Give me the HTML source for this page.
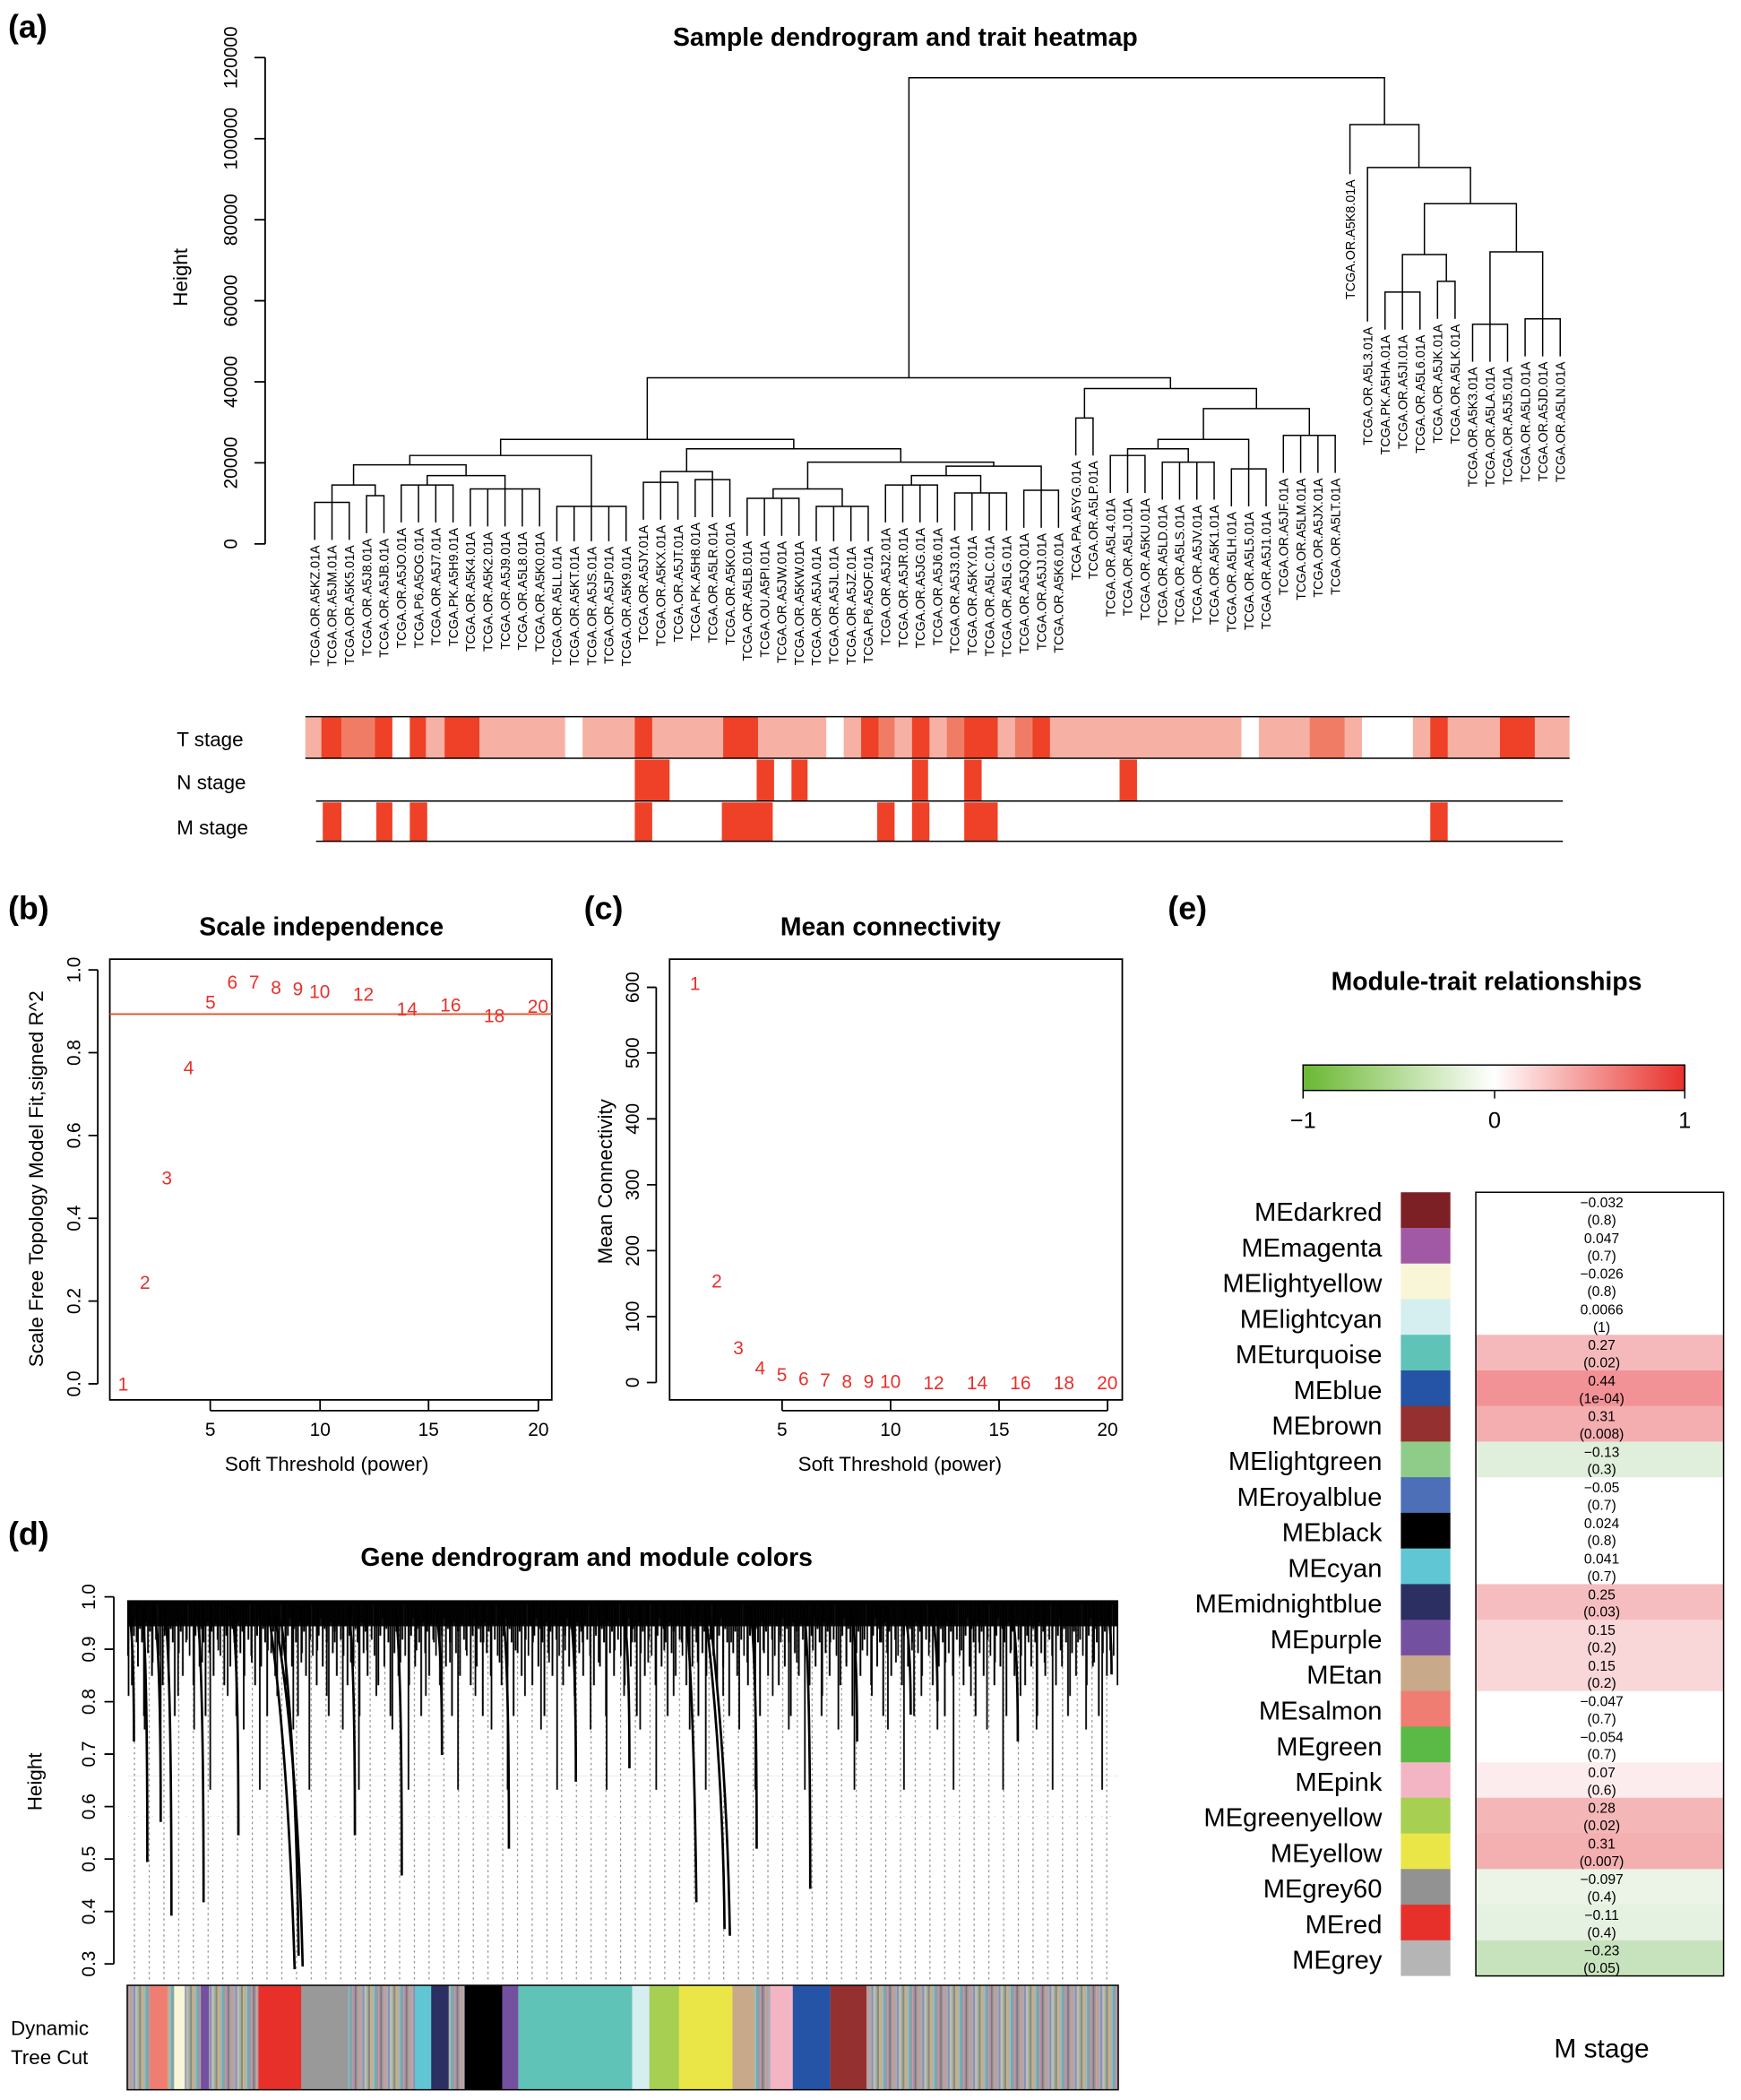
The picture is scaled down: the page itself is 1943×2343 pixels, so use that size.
<!DOCTYPE html>
<html><head><meta charset="utf-8"><style>html,body{margin:0;padding:0;background:#fff}svg{display:block}</style></head>
<body>
<svg xmlns="http://www.w3.org/2000/svg" width="1943" height="2343" viewBox="0 0 1300 1567.6" font-family="Liberation Sans, Arial, sans-serif">
<defs>
<linearGradient id="gr" x1="0" x2="1"><stop offset="0" stop-color="#6ab832"/><stop offset="0.5" stop-color="#ffffff"/><stop offset="1" stop-color="#e8302b"/></linearGradient>
<pattern id="dense" x="95" y="1196" width="23" height="130" patternUnits="userSpaceOnUse">
<path d="M0.5,0V40M2,0V18M3.5,0V62M5,0V25M6.5,0V12M8,0V48M9.5,0V20M11,0V30M12.5,0V85M14,0V15M15.5,0V38M17,0V22M18.5,0V55M20,0V16M21.5,0V28" stroke="#000" stroke-width="1.3"/>
</pattern>
<pattern id="dense2" x="95" y="1196" width="37" height="160" patternUnits="userSpaceOnUse">
<path d="M1,0V70M7,0V30M13,0V95M19,0V45M25,0V140M31,0V36" stroke="#000" stroke-width="1.2"/>
</pattern>
<pattern id="dots" x="100" y="1212" width="11" height="4" patternUnits="userSpaceOnUse">
<rect x="0" y="0" width="0.8" height="1.6" fill="#888"/>
</pattern>
<pattern id="mix" x="95" y="1482" width="19" height="78" patternUnits="userSpaceOnUse">
<rect x="0" width="1.5" height="78" fill="#999"/><rect x="1.5" width="1.5" height="78" fill="#c49a9a"/><rect x="3" width="1.5" height="78" fill="#aaa"/><rect x="4.5" width="1.5" height="78" fill="#8a8fb5"/><rect x="6" width="1.5" height="78" fill="#bbb"/><rect x="7.5" width="1.5" height="78" fill="#a0b090"/><rect x="9" width="1.5" height="78" fill="#888"/><rect x="10.5" width="1.5" height="78" fill="#c8b080"/><rect x="12" width="1.5" height="78" fill="#b0b0b0"/><rect x="13.5" width="1.5" height="78" fill="#66b0b8"/><rect x="15" width="1.5" height="78" fill="#9a9a9a"/><rect x="16.5" width="1.5" height="78" fill="#b88aa8"/><rect x="18" width="1" height="78" fill="#777"/>
</pattern>
</defs>
<rect width="1300" height="1568" fill="#fff"/>
<g font-weight="bold" font-size="24">
<text x="6" y="28">(a)</text><text x="6" y="686">(b)</text><text x="436" y="686">(c)</text><text x="872" y="686">(e)</text><text x="6" y="1153">(d)</text>
</g>
<g font-weight="bold" font-size="19" text-anchor="middle">
<text x="676" y="34">Sample dendrogram and trait heatmap</text>
<text x="240" y="698">Scale independence</text>
<text x="665" y="698">Mean connectivity</text>
<text x="1110" y="739">Module-trait relationships</text>
<text x="438" y="1169">Gene dendrogram and module colors</text>
</g>
<g stroke="#000" stroke-width="1.2" fill="none">
<path d="M198,406V43M190,406H198M190,345.5H198M190,285H198M190,224.5H198M190,164H198M190,103.5H198M190,43H198"/>
</g>
<g font-size="14" text-anchor="middle">
<text transform="translate(177,406) rotate(-90)">0</text>
<text transform="translate(177,345.5) rotate(-90)">20000</text>
<text transform="translate(177,285) rotate(-90)">40000</text>
<text transform="translate(177,224.5) rotate(-90)">60000</text>
<text transform="translate(177,164) rotate(-90)">80000</text>
<text transform="translate(177,103.5) rotate(-90)">100000</text>
<text transform="translate(177,43) rotate(-90)">120000</text>
<text transform="translate(140,207) rotate(-90)" font-size="15">Height</text>
</g>
<g stroke="#000" stroke-width="1" fill="none">
<path d="M235,403V375H260.8V403M247.9,375V403"/>
<path d="M273.7,398V370H286.7V398"/>
<path d="M299.6,390V362H338.3V390M312.5,362V390M325.4,362V390"/>
<path d="M351.2,393V365H402.9V393M364.2,365V393M377.1,365V393M390,365V393"/>
<path d="M415.8,404V378H467.5V404M428.7,378V404M441.6,378V404M454.6,378V404"/>
<path d="M247.9,375V362H280.2V370M319,362V355H377.1V365M264,362V347H348V355M306,347V340H441.6V378"/>
<path d="M480.4,388V360H506.2V388M493.3,360V388"/>
<path d="M519.1,386V358H545V386M532,358V386"/>
<path d="M493.3,360V352H532V358"/>
<path d="M557.9,400V372H596.6V400M570.8,372V400M583.7,372V400"/>
<path d="M609.5,404V378H648.3V404M622.5,378V404M635.4,378V404"/>
<path d="M661.2,390V362H700V390M674.1,362V390M687,362V390"/>
<path d="M712.9,396V368H751.6V396M725.8,368V396M738.7,368V396"/>
<path d="M764.5,394V366H790.4V394M777.5,366V394"/>
<path d="M577.3,372V365H628.9V378M680.6,362V355H732.3V368M706.5,355V348H777.5V366M603.1,365V345H742V348"/>
<path d="M512.7,352V335H672.6V345M373.8,340V328H592.7V335"/>
<path d="M803.3,340V312H816.2V340"/>
<path d="M829.1,368V340H855V368M842,340V368"/>
<path d="M867.9,373V345H906.6V373M880.8,345V373M893.7,345V373"/>
<path d="M919.5,378V350H945.4V378M932.4,350V378"/>
<path d="M958.3,353V325H997V353M971.2,325V353M984.1,325V353"/>
<path d="M842,340V335H887.3V345M864.7,335V328H932.4V350M898.6,328V305H977.7V325M809.8,312V290H938.2V305"/>
<path d="M483.3,328V282H874V290"/>
<path d="M678.7,282V58H1033.8V93"/>
<path d="M1008,130V93H1059.5V125"/>
<path d="M1021.1,240V125H1098V152"/>
<path d="M1063.6,190V152H1132.3V188"/>
<path d="M1047.2,218V190H1080V210"/>
<path d="M1034.2,246V218H1060.3V246M1047.2,218V246"/>
<path d="M1073.4,238V210H1086.5V238"/>
<path d="M1112.6,242V188H1151.9V238"/>
<path d="M1099.6,270V242H1125.7V270M1112.6,242V270"/>
<path d="M1138.8,266V238H1165V266M1151.9,238V266"/>
</g>
<g font-size="9.6" text-anchor="end">
<text transform="translate(238.5,407) rotate(-90)">TCGA.OR.A5KZ.01A</text>
<text transform="translate(251.4,407) rotate(-90)">TCGA.OR.A5JM.01A</text>
<text transform="translate(264.3,407) rotate(-90)">TCGA.OR.A5K5.01A</text>
<text transform="translate(277.2,402) rotate(-90)">TCGA.OR.A5J8.01A</text>
<text transform="translate(290.2,402) rotate(-90)">TCGA.OR.A5JB.01A</text>
<text transform="translate(303.1,394) rotate(-90)">TCGA.OR.A5JO.01A</text>
<text transform="translate(316,394) rotate(-90)">TCGA.P6.A5OG.01A</text>
<text transform="translate(328.9,394) rotate(-90)">TCGA.OR.A5J7.01A</text>
<text transform="translate(341.8,394) rotate(-90)">TCGA.PK.A5H9.01A</text>
<text transform="translate(354.7,397) rotate(-90)">TCGA.OR.A5K4.01A</text>
<text transform="translate(367.7,397) rotate(-90)">TCGA.OR.A5K2.01A</text>
<text transform="translate(380.6,397) rotate(-90)">TCGA.OR.A5J9.01A</text>
<text transform="translate(393.5,397) rotate(-90)">TCGA.OR.A5L8.01A</text>
<text transform="translate(406.4,397) rotate(-90)">TCGA.OR.A5K0.01A</text>
<text transform="translate(419.3,408) rotate(-90)">TCGA.OR.A5LL.01A</text>
<text transform="translate(432.2,408) rotate(-90)">TCGA.OR.A5KT.01A</text>
<text transform="translate(445.1,408) rotate(-90)">TCGA.OR.A5JS.01A</text>
<text transform="translate(458.1,408) rotate(-90)">TCGA.OR.A5JP.01A</text>
<text transform="translate(471,408) rotate(-90)">TCGA.OR.A5K9.01A</text>
<text transform="translate(483.9,392) rotate(-90)">TCGA.OR.A5JY.01A</text>
<text transform="translate(496.8,392) rotate(-90)">TCGA.OR.A5KX.01A</text>
<text transform="translate(509.7,392) rotate(-90)">TCGA.OR.A5JT.01A</text>
<text transform="translate(522.6,390) rotate(-90)">TCGA.PK.A5H8.01A</text>
<text transform="translate(535.5,390) rotate(-90)">TCGA.OR.A5LR.01A</text>
<text transform="translate(548.5,390) rotate(-90)">TCGA.OR.A5KO.01A</text>
<text transform="translate(561.4,404) rotate(-90)">TCGA.OR.A5LB.01A</text>
<text transform="translate(574.3,404) rotate(-90)">TCGA.OU.A5PI.01A</text>
<text transform="translate(587.2,404) rotate(-90)">TCGA.OR.A5JW.01A</text>
<text transform="translate(600.1,404) rotate(-90)">TCGA.OR.A5KW.01A</text>
<text transform="translate(613,408) rotate(-90)">TCGA.OR.A5JA.01A</text>
<text transform="translate(626,408) rotate(-90)">TCGA.OR.A5JL.01A</text>
<text transform="translate(638.9,408) rotate(-90)">TCGA.OR.A5JZ.01A</text>
<text transform="translate(651.8,408) rotate(-90)">TCGA.P6.A5OF.01A</text>
<text transform="translate(664.7,394) rotate(-90)">TCGA.OR.A5J2.01A</text>
<text transform="translate(677.6,394) rotate(-90)">TCGA.OR.A5JR.01A</text>
<text transform="translate(690.5,394) rotate(-90)">TCGA.OR.A5JG.01A</text>
<text transform="translate(703.5,394) rotate(-90)">TCGA.OR.A5J6.01A</text>
<text transform="translate(716.4,400) rotate(-90)">TCGA.OR.A5J3.01A</text>
<text transform="translate(729.3,400) rotate(-90)">TCGA.OR.A5KY.01A</text>
<text transform="translate(742.2,400) rotate(-90)">TCGA.OR.A5LC.01A</text>
<text transform="translate(755.1,400) rotate(-90)">TCGA.OR.A5LG.01A</text>
<text transform="translate(768,398) rotate(-90)">TCGA.OR.A5JQ.01A</text>
<text transform="translate(781,398) rotate(-90)">TCGA.OR.A5JJ.01A</text>
<text transform="translate(793.9,398) rotate(-90)">TCGA.OR.A5K6.01A</text>
<text transform="translate(806.8,344) rotate(-90)">TCGA.PA.A5YG.01A</text>
<text transform="translate(819.7,344) rotate(-90)">TCGA.OR.A5LP.01A</text>
<text transform="translate(832.6,372) rotate(-90)">TCGA.OR.A5L4.01A</text>
<text transform="translate(845.5,372) rotate(-90)">TCGA.OR.A5LJ.01A</text>
<text transform="translate(858.5,372) rotate(-90)">TCGA.OR.A5KU.01A</text>
<text transform="translate(871.4,377) rotate(-90)">TCGA.OR.A5LD.01A</text>
<text transform="translate(884.3,377) rotate(-90)">TCGA.OR.A5LS.01A</text>
<text transform="translate(897.2,377) rotate(-90)">TCGA.OR.A5JV.01A</text>
<text transform="translate(910.1,377) rotate(-90)">TCGA.OR.A5K1.01A</text>
<text transform="translate(923,382) rotate(-90)">TCGA.OR.A5LH.01A</text>
<text transform="translate(935.9,382) rotate(-90)">TCGA.OR.A5L5.01A</text>
<text transform="translate(948.9,382) rotate(-90)">TCGA.OR.A5J1.01A</text>
<text transform="translate(961.8,357) rotate(-90)">TCGA.OR.A5JF.01A</text>
<text transform="translate(974.7,357) rotate(-90)">TCGA.OR.A5LM.01A</text>
<text transform="translate(987.6,357) rotate(-90)">TCGA.OR.A5JX.01A</text>
<text transform="translate(1000.5,357) rotate(-90)">TCGA.OR.A5LT.01A</text>
<text transform="translate(1011.5,134) rotate(-90)">TCGA.OR.A5K8.01A</text>
<text transform="translate(1024.6,244) rotate(-90)">TCGA.OR.A5L3.01A</text>
<text transform="translate(1037.7,250) rotate(-90)">TCGA.PK.A5HA.01A</text>
<text transform="translate(1050.7,250) rotate(-90)">TCGA.OR.A5JI.01A</text>
<text transform="translate(1063.8,250) rotate(-90)">TCGA.OR.A5L6.01A</text>
<text transform="translate(1076.9,242) rotate(-90)">TCGA.OR.A5JK.01A</text>
<text transform="translate(1090,242) rotate(-90)">TCGA.OR.A5LK.01A</text>
<text transform="translate(1103.1,274) rotate(-90)">TCGA.OR.A5K3.01A</text>
<text transform="translate(1116.1,274) rotate(-90)">TCGA.OR.A5LA.01A</text>
<text transform="translate(1129.2,274) rotate(-90)">TCGA.OR.A5J5.01A</text>
<text transform="translate(1142.3,270) rotate(-90)">TCGA.OR.A5LD.01A</text>
<text transform="translate(1155.4,270) rotate(-90)">TCGA.OR.A5JD.01A</text>
<text transform="translate(1168.5,270) rotate(-90)">TCGA.OR.A5LN.01A</text>
</g>
<g>
<rect x="228" y="535" width="944" height="31" fill="#f7b1a4"/>
<rect x="240" y="535" width="15" height="31" fill="#ee4127"/>
<rect x="255" y="535" width="25" height="31" fill="#f07c66"/>
<rect x="280" y="535" width="13" height="31" fill="#ee4127"/>
<rect x="293" y="535" width="13" height="31" fill="#fff"/>
<rect x="306" y="535" width="12" height="31" fill="#ee4127"/>
<rect x="332" y="535" width="26" height="31" fill="#ee4127"/>
<rect x="422" y="535" width="13" height="31" fill="#fff"/>
<rect x="474" y="535" width="13" height="31" fill="#ee4127"/>
<rect x="540" y="535" width="26" height="31" fill="#ee4127"/>
<rect x="617" y="535" width="13" height="31" fill="#fff"/>
<rect x="643" y="535" width="13" height="31" fill="#ee4127"/>
<rect x="656" y="535" width="12" height="31" fill="#f07c66"/>
<rect x="681" y="535" width="13" height="31" fill="#ee4127"/>
<rect x="707" y="535" width="13" height="31" fill="#f07c66"/>
<rect x="720" y="535" width="25" height="31" fill="#ee4127"/>
<rect x="758" y="535" width="13" height="31" fill="#f07c66"/>
<rect x="771" y="535" width="13" height="31" fill="#ee4127"/>
<rect x="927" y="535" width="13" height="31" fill="#fff"/>
<rect x="978" y="535" width="26" height="31" fill="#f07c66"/>
<rect x="1017" y="535" width="38" height="31" fill="#fff"/>
<rect x="1068" y="535" width="13" height="31" fill="#ee4127"/>
<rect x="1120" y="535" width="26" height="31" fill="#ee4127"/>
</g>
<g fill="#ee4127">
<rect x="474" y="567" width="26" height="31"/><rect x="565" y="567" width="13" height="31"/><rect x="591" y="567" width="12" height="31"/><rect x="681" y="567" width="12" height="31"/><rect x="720" y="567" width="13" height="31"/><rect x="836" y="567" width="13" height="31"/>
<rect x="241" y="599" width="14" height="29"/><rect x="281" y="599" width="12" height="29"/><rect x="306" y="599" width="13" height="29"/><rect x="474" y="599" width="13" height="29"/><rect x="539" y="599" width="38" height="29"/><rect x="655" y="599" width="13" height="29"/><rect x="681" y="599" width="13" height="29"/><rect x="720" y="599" width="25" height="29"/><rect x="1068" y="599" width="13" height="29"/>
</g>
<path d="M228,535H1172M228,566H1172M236,598H1167M236,628H1167" stroke="#000" stroke-width="1" fill="none"/>
<g font-size="15"><text x="132" y="557">T stage</text><text x="132" y="589">N stage</text><text x="132" y="623">M stage</text></g>
<g stroke="#000" stroke-width="1.2" fill="none">
<rect x="82" y="716" width="330" height="329"/>
<path d="M73,1033V724M66,1033H73M66,971.2H73M66,909.4H73M66,847.6H73M66,785.8H73M66,724H73"/>
<path d="M157,1045V1053M239,1045V1053M320,1045V1053M402,1045V1053M157,1053H402"/>
<rect x="500" y="716" width="338" height="329"/>
<path d="M490,1032V737M483,1032H490M483,982.8H490M483,933.6H490M483,884.4H490M483,835.2H490M483,786H490M483,737H490"/>
<path d="M584,1045V1053M665,1045V1053M746,1045V1053M827,1045V1053M584,1053H827"/>
</g>
<line x1="82" x2="412" y1="757" y2="757" stroke="#e8502b" stroke-width="1.3"/>
<g font-size="14" text-anchor="middle">
<text transform="translate(60,1033) rotate(-90)">0.0</text><text transform="translate(60,971.2) rotate(-90)">0.2</text><text transform="translate(60,909.4) rotate(-90)">0.4</text><text transform="translate(60,847.6) rotate(-90)">0.6</text><text transform="translate(60,785.8) rotate(-90)">0.8</text><text transform="translate(60,724) rotate(-90)">1.0</text>
<text x="157" y="1072">5</text><text x="239" y="1072">10</text><text x="320" y="1072">15</text><text x="402" y="1072">20</text>
<text transform="translate(477,1032) rotate(-90)">0</text><text transform="translate(477,982.8) rotate(-90)">100</text><text transform="translate(477,933.6) rotate(-90)">200</text><text transform="translate(477,884.4) rotate(-90)">300</text><text transform="translate(477,835.2) rotate(-90)">400</text><text transform="translate(477,786) rotate(-90)">500</text><text transform="translate(477,737) rotate(-90)">600</text>
<text x="584" y="1072">5</text><text x="665" y="1072">10</text><text x="746" y="1072">15</text><text x="827" y="1072">20</text>
<text x="244" y="1098" font-size="15">Soft Threshold (power)</text>
<text x="672" y="1098" font-size="15">Soft Threshold (power)</text>
<text transform="translate(32,880) rotate(-90)" font-size="15">Scale Free Topology Model Fit,signed R^2</text>
<text transform="translate(457,882) rotate(-90)" font-size="15">Mean Connectivity</text>
</g>
<g font-size="14" fill="#e8302b" text-anchor="middle">
<text x="92" y="1038">1</text><text x="108.3" y="962">2</text><text x="124.6" y="884">3</text><text x="140.9" y="802">4</text><text x="157.2" y="753">5</text><text x="173.5" y="738">6</text><text x="189.8" y="738">7</text><text x="206.1" y="742">8</text><text x="222.4" y="743">9</text><text x="238.7" y="745">10</text><text x="271.3" y="747">12</text><text x="303.9" y="758">14</text><text x="336.5" y="755">16</text><text x="369.1" y="763">18</text><text x="401.7" y="756">20</text>
<text x="519" y="739">1</text><text x="535.2" y="961">2</text><text x="551.4" y="1011">3</text><text x="567.6" y="1026">4</text><text x="583.8" y="1031">5</text><text x="600" y="1034">6</text><text x="616.2" y="1035">7</text><text x="632.4" y="1036">8</text><text x="648.6" y="1036">9</text><text x="664.8" y="1036">10</text><text x="697.2" y="1037">12</text><text x="729.6" y="1037">14</text><text x="762" y="1037">16</text><text x="794.4" y="1037">18</text><text x="826.8" y="1037">20</text>
</g>
<!-- panel d -->
<g stroke="#000" stroke-width="1.2" fill="none"><path d="M85,1466V1192M78,1466H85M78,1426.9H85M78,1387.7H85M78,1348.6H85M78,1309.4H85M78,1270.3H85M78,1231.1H85M78,1192H85"/></g>
<g font-size="14" text-anchor="middle">
<text transform="translate(71,1466) rotate(-90)">0.3</text><text transform="translate(71,1426.9) rotate(-90)">0.4</text><text transform="translate(71,1387.7) rotate(-90)">0.5</text><text transform="translate(71,1348.6) rotate(-90)">0.6</text><text transform="translate(71,1309.4) rotate(-90)">0.7</text><text transform="translate(71,1270.3) rotate(-90)">0.8</text><text transform="translate(71,1231.1) rotate(-90)">0.9</text><text transform="translate(71,1192) rotate(-90)">1.0</text>
<text transform="translate(31,1330) rotate(-90)" font-size="15">Height</text>
</g>
<rect x="95" y="1212" width="740" height="268" fill="url(#dots)"/>
<rect x="95" y="1196" width="740" height="18" fill="#111"/>
<rect x="95" y="1196" width="740" height="130" fill="url(#dense)"/>
<rect x="95" y="1196" width="740" height="160" fill="url(#dense2)"/>
<path d="M95,1196H835" stroke="#000" stroke-width="3"/>
<g stroke="#000" stroke-width="1.8" fill="none">
<path d="M96,1200Q100,1220 100,1300"/>
<path d="M106,1200Q110,1230 110,1390"/>
<path d="M115,1200Q120,1230 120,1360"/>
<path d="M123,1200Q128,1240 128,1430"/>
<path d="M147,1200Q152,1240 152,1420"/>
<path d="M173,1200Q178,1230 178,1370"/>
<path d="M200,1200Q215,1300 220,1470"/>
<path d="M205,1205Q222,1300 226,1468"/>
<path d="M210,1210Q221,1300 223,1460"/>
<path d="M260,1200Q265,1230 265,1370"/>
<path d="M295,1200Q300,1230 300,1400"/>
<path d="M325,1200Q330,1220 330,1310"/>
<path d="M375,1200Q380,1230 380,1380"/>
<path d="M425,1200Q430,1220 430,1330"/>
<path d="M465,1200Q470,1220 470,1320"/>
<path d="M512,1200Q518,1260 520,1420"/>
<path d="M530,1205Q543,1320 545,1445"/>
<path d="M527,1205Q540,1320 541,1440"/>
<path d="M560,1200Q565,1230 565,1380"/>
<path d="M600,1200Q605,1230 605,1410"/>
<path d="M635,1200Q640,1220 640,1300"/>
<path d="M675,1200Q680,1220 680,1280"/>
<path d="M695,1200Q700,1220 700,1270"/>
<path d="M755,1200Q760,1220 760,1300"/>
<path d="M826,1200Q830,1210 830,1250"/>
</g>
<!-- color bar -->
<rect x="95" y="1482" width="740" height="78" fill="url(#mix)"/>
<g>
<rect x="112" y="1482" width="13" height="78" fill="#f07d71"/>
<rect x="130" y="1482" width="8" height="78" fill="#f8f6d6"/>
<rect x="150" y="1482" width="6" height="78" fill="#7450a0"/>
<rect x="193" y="1482" width="32" height="78" fill="#e8302b"/>
<rect x="225" y="1482" width="35" height="78" fill="#999"/>
<rect x="310" y="1482" width="12" height="78" fill="#60c6d4"/>
<rect x="322" y="1482" width="13" height="78" fill="#2b2f62"/>
<rect x="347" y="1482" width="28" height="78" fill="#000"/>
<rect x="375" y="1482" width="12" height="78" fill="#7450a0"/>
<rect x="387" y="1482" width="85" height="78" fill="#5fc3b8"/>
<rect x="472" y="1482" width="13" height="78" fill="#d5eef0"/>
<rect x="485" y="1482" width="22" height="78" fill="#a7cf51"/>
<rect x="507" y="1482" width="40" height="78" fill="#eae647"/>
<rect x="547" y="1482" width="15" height="78" fill="#c8a98a"/>
<rect x="575" y="1482" width="17" height="78" fill="#f3b5c4"/>
<rect x="592" y="1482" width="28" height="78" fill="#2553a6"/>
<rect x="620" y="1482" width="27" height="78" fill="#953030"/>
<rect x="95" y="1482" width="740" height="78" fill="none" stroke="#000" stroke-width="1"/>
</g>
<g font-size="15"><text x="8" y="1519">Dynamic</text><text x="8" y="1541">Tree Cut</text></g>
<!-- panel e -->
<rect x="973" y="795" width="285" height="19" fill="url(#gr)" stroke="#000" stroke-width="1"/>
<g stroke="#000"><path d="M973,814V820M1116,814V820M1258,814V820"/></g>
<g font-size="17" text-anchor="middle"><text x="973" y="842">−1</text><text x="1116" y="842">0</text><text x="1258" y="842">1</text><text x="1196" y="1536" font-size="20">M stage</text></g>
<g>
<g transform="translate(0,890)"><rect x="1046" width="37" height="26.9" fill="#7c2025"/><rect x="1102" width="185" height="26.9" fill="#fff"/></g>
<g transform="translate(0,916.6)"><rect x="1046" width="37" height="26.9" fill="#a259a5"/><rect x="1102" width="185" height="26.9" fill="#fff"/></g>
<g transform="translate(0,943.2)"><rect x="1046" width="37" height="26.9" fill="#f8f6d6"/><rect x="1102" width="185" height="26.9" fill="#fff"/></g>
<g transform="translate(0,969.8)"><rect x="1046" width="37" height="26.9" fill="#d5eef0"/><rect x="1102" width="185" height="26.9" fill="#fff"/></g>
<g transform="translate(0,996.4)"><rect x="1046" width="37" height="26.9" fill="#5fc3b8"/><rect x="1102" width="185" height="26.9" fill="#f5b9bb"/></g>
<g transform="translate(0,1023)"><rect x="1046" width="37" height="26.9" fill="#2553a6"/><rect x="1102" width="185" height="26.9" fill="#f39296"/></g>
<g transform="translate(0,1049.5)"><rect x="1046" width="37" height="26.9" fill="#953030"/><rect x="1102" width="185" height="26.9" fill="#f4aeb0"/></g>
<g transform="translate(0,1076.1)"><rect x="1046" width="37" height="26.9" fill="#8fcc8a"/><rect x="1102" width="185" height="26.9" fill="#e0efdb"/></g>
<g transform="translate(0,1102.7)"><rect x="1046" width="37" height="26.9" fill="#4c6fb8"/><rect x="1102" width="185" height="26.9" fill="#fff"/></g>
<g transform="translate(0,1129.3)"><rect x="1046" width="37" height="26.9" fill="#000"/><rect x="1102" width="185" height="26.9" fill="#fff"/></g>
<g transform="translate(0,1155.9)"><rect x="1046" width="37" height="26.9" fill="#60c6d4"/><rect x="1102" width="185" height="26.9" fill="#fff"/></g>
<g transform="translate(0,1182.5)"><rect x="1046" width="37" height="26.9" fill="#2b2f62"/><rect x="1102" width="185" height="26.9" fill="#f5bdbf"/></g>
<g transform="translate(0,1209.1)"><rect x="1046" width="37" height="26.9" fill="#7450a0"/><rect x="1102" width="185" height="26.9" fill="#f9d6d7"/></g>
<g transform="translate(0,1235.7)"><rect x="1046" width="37" height="26.9" fill="#c8a98a"/><rect x="1102" width="185" height="26.9" fill="#f9d6d7"/></g>
<g transform="translate(0,1262.3)"><rect x="1046" width="37" height="26.9" fill="#f07d71"/><rect x="1102" width="185" height="26.9" fill="#fff"/></g>
<g transform="translate(0,1288.9)"><rect x="1046" width="37" height="26.9" fill="#5bb945"/><rect x="1102" width="185" height="26.9" fill="#fff"/></g>
<g transform="translate(0,1315.5)"><rect x="1046" width="37" height="26.9" fill="#f3b5c4"/><rect x="1102" width="185" height="26.9" fill="#fdeced"/></g>
<g transform="translate(0,1342)"><rect x="1046" width="37" height="26.9" fill="#a7cf51"/><rect x="1102" width="185" height="26.9" fill="#f5b6b8"/></g>
<g transform="translate(0,1368.6)"><rect x="1046" width="37" height="26.9" fill="#eae647"/><rect x="1102" width="185" height="26.9" fill="#f4afb1"/></g>
<g transform="translate(0,1395.2)"><rect x="1046" width="37" height="26.9" fill="#929292"/><rect x="1102" width="185" height="26.9" fill="#ebf4e7"/></g>
<g transform="translate(0,1421.8)"><rect x="1046" width="37" height="26.9" fill="#e8302b"/><rect x="1102" width="185" height="26.9" fill="#e5f1e1"/></g>
<g transform="translate(0,1448.4)"><rect x="1046" width="37" height="26.6" fill="#b5b5b5"/><rect x="1102" width="185" height="26.6" fill="#c7e3bd"/></g>
</g>
<rect x="1102" y="890" width="185" height="585" fill="none" stroke="#000" stroke-width="1"/>
<g font-size="19.5" text-anchor="end">
<text x="1032" y="911.3">MEdarkred</text><text x="1032" y="937.9">MEmagenta</text><text x="1032" y="964.5">MElightyellow</text><text x="1032" y="991.1">MElightcyan</text><text x="1032" y="1017.7">MEturquoise</text><text x="1032" y="1044.3">MEblue</text><text x="1032" y="1070.8">MEbrown</text><text x="1032" y="1097.4">MElightgreen</text><text x="1032" y="1124">MEroyalblue</text><text x="1032" y="1150.6">MEblack</text><text x="1032" y="1177.2">MEcyan</text><text x="1032" y="1203.8">MEmidnightblue</text><text x="1032" y="1230.4">MEpurple</text><text x="1032" y="1257">MEtan</text><text x="1032" y="1283.6">MEsalmon</text><text x="1032" y="1310.2">MEgreen</text><text x="1032" y="1336.8">MEpink</text><text x="1032" y="1363.3">MEgreenyellow</text><text x="1032" y="1389.9">MEyellow</text><text x="1032" y="1416.5">MEgrey60</text><text x="1032" y="1443.1">MEred</text><text x="1032" y="1469.7">MEgrey</text>
</g>
<g font-size="10.5" text-anchor="middle">
<text x="1196" y="901.3">−0.032</text><text x="1196" y="914.3">(0.8)</text>
<text x="1196" y="927.9">0.047</text><text x="1196" y="940.9">(0.7)</text>
<text x="1196" y="954.5">−0.026</text><text x="1196" y="967.5">(0.8)</text>
<text x="1196" y="981.1">0.0066</text><text x="1196" y="994.1">(1)</text>
<text x="1196" y="1007.7">0.27</text><text x="1196" y="1020.7">(0.02)</text>
<text x="1196" y="1034.3">0.44</text><text x="1196" y="1047.3">(1e-04)</text>
<text x="1196" y="1060.8">0.31</text><text x="1196" y="1073.8">(0.008)</text>
<text x="1196" y="1087.4">−0.13</text><text x="1196" y="1100.4">(0.3)</text>
<text x="1196" y="1114">−0.05</text><text x="1196" y="1127">(0.7)</text>
<text x="1196" y="1140.6">0.024</text><text x="1196" y="1153.6">(0.8)</text>
<text x="1196" y="1167.2">0.041</text><text x="1196" y="1180.2">(0.7)</text>
<text x="1196" y="1193.8">0.25</text><text x="1196" y="1206.8">(0.03)</text>
<text x="1196" y="1220.4">0.15</text><text x="1196" y="1233.4">(0.2)</text>
<text x="1196" y="1247">0.15</text><text x="1196" y="1260">(0.2)</text>
<text x="1196" y="1273.6">−0.047</text><text x="1196" y="1286.6">(0.7)</text>
<text x="1196" y="1300.2">−0.054</text><text x="1196" y="1313.2">(0.7)</text>
<text x="1196" y="1326.8">0.07</text><text x="1196" y="1339.8">(0.6)</text>
<text x="1196" y="1353.3">0.28</text><text x="1196" y="1366.3">(0.02)</text>
<text x="1196" y="1379.9">0.31</text><text x="1196" y="1392.9">(0.007)</text>
<text x="1196" y="1406.5">−0.097</text><text x="1196" y="1419.5">(0.4)</text>
<text x="1196" y="1433.1">−0.11</text><text x="1196" y="1446.1">(0.4)</text>
<text x="1196" y="1459.7">−0.23</text><text x="1196" y="1472.7">(0.05)</text>
</g>
</svg>
</body></html>
